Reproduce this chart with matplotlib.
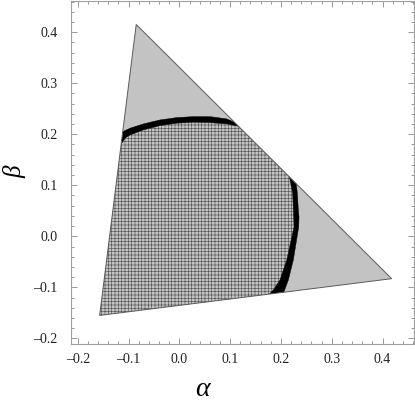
import numpy as np
import matplotlib
matplotlib.use("Agg")
import matplotlib.pyplot as plt
from matplotlib.patches import Polygon
from matplotlib.ticker import MultipleLocator, FuncFormatter

# ---- data ----
tri_alpha = [-0.085, -0.157, 0.418]
tri_beta = [0.415, -0.155, -0.083]

top_outer_alpha = [-0.135, -0.1114, -0.097, -0.0709, -0.038, -0.0051, 0.0276, 0.0604, 0.0933, 0.113, 0.125]
top_outer_beta = [0.200, 0.2051, 0.2118, 0.2202, 0.228, 0.2326, 0.2345, 0.2345, 0.230, 0.2216, 0.215]

top_inner_alpha = [-0.135, -0.1134, -0.1069, -0.097, -0.0709, -0.038, -0.0051, 0.0276, 0.0604, 0.0933, 0.1195, 0.13]
top_inner_beta = [0.165, 0.1824, 0.1922, 0.1986, 0.2084, 0.2169, 0.2216, 0.2235, 0.2227, 0.2202, 0.2149, 0.212]

right_outer_alpha = [0.226, 0.2323, 0.2343, 0.2356, 0.2350, 0.2244, 0.2146, 0.2048, 0.200]
right_outer_beta = [0.140, 0.0843, 0.0516, 0.038, 0.0188, -0.0465, -0.0857, -0.1118, -0.125]

right_inner_alpha = [0.208, 0.2166, 0.2232, 0.2244, 0.2258, 0.2114, 0.198, 0.185, 0.1786, 0.170]
right_inner_beta = [0.150, 0.1169, 0.0843, 0.0516, 0.0188, -0.0465, -0.0857, -0.105, -0.1118, -0.125]

x_ticks = [-0.2, -0.1, 0.0, 0.1, 0.2, 0.3, 0.4]
y_ticks = [-0.2, -0.1, 0.0, 0.1, 0.2, 0.3, 0.4]

plt.rcParams['font.family'] = ['Liberation Serif', 'DejaVu Serif']
plt.rcParams['hatch.linewidth'] = 0.45

fig = plt.figure(figsize=(4.15, 4.03), dpi=100)
ax = fig.add_axes([70.7 / 415, 1 - 344 / 403, (414 - 70.7) / 415, (344 - 1) / 403])
ax.set_xlim(-0.214, 0.462)
ax.set_ylim(-0.211, 0.461)

tri_xy = np.column_stack([tri_alpha, tri_beta])
tri = Polygon(tri_xy, closed=True, facecolor='#c3c3c3', edgecolor='none', zorder=1)
ax.add_patch(tri)

# hatched (meshed) region: triangle corner below the top curve and left of the right curve
mesh_xy = np.vstack([
    [[-0.3, -0.3], [-0.3, top_inner_beta[0]]],
    np.column_stack([top_inner_alpha, top_inner_beta]),
    [[0.3, 0.3]],
    np.column_stack([right_inner_alpha, right_inner_beta]),
    [[right_inner_alpha[-1], -0.3]],
])
mesh = Polygon(mesh_xy, closed=True, facecolor='none', edgecolor='#555555',
               linewidth=0, hatch='+++++', zorder=2)
ax.add_patch(mesh)
mesh.set_clip_path(tri)

top_band = np.vstack([np.column_stack([top_outer_alpha, top_outer_beta]),
                      np.column_stack([top_inner_alpha, top_inner_beta])[::-1]])
right_band = np.vstack([np.column_stack([right_outer_alpha, right_outer_beta]),
                        np.column_stack([right_inner_alpha, right_inner_beta])[::-1]])
for band in (top_band, right_band):
    p = Polygon(band, closed=True, facecolor='black', edgecolor='black', linewidth=0.3, zorder=3)
    ax.add_patch(p)
    p.set_clip_path(tri)

outline = Polygon(tri_xy, closed=True, facecolor='none', edgecolor='#5a5a5a', linewidth=0.7, zorder=4)
ax.add_patch(outline)

fmt = FuncFormatter(lambda v, pos: ('%.1f' % v).replace('-', '\u2013') if abs(v) > 1e-9 else '0.0')
ax.set_xticks(x_ticks)
ax.set_yticks(y_ticks)
ax.xaxis.set_major_formatter(fmt)
ax.yaxis.set_major_formatter(fmt)
ax.xaxis.set_minor_locator(MultipleLocator(0.02))
ax.yaxis.set_minor_locator(MultipleLocator(0.02))
ax.tick_params(which='both', direction='in', top=True, right=True, color='#8a8a8a', width=0.6)
ax.tick_params(which='major', length=4.0, labelsize=10, labelcolor='#222222')
ax.tick_params(which='minor', length=2.0)
ax.tick_params(axis='x', which='major', pad=6.5)
ax.tick_params(axis='y', which='major', pad=9.5)
for s in ax.spines.values():
    s.set_color('#a0a0a0')
    s.set_linewidth(0.8)

fig.text(202 / 415, 1 - 389 / 403, 'α', fontsize=20, style='italic', ha='center', va='center')
fig.text(15 / 415, 1 - 172 / 403, 'β', fontsize=18, style='italic', ha='center', va='center', rotation=90)

fig.savefig('out.png', dpi=100)
